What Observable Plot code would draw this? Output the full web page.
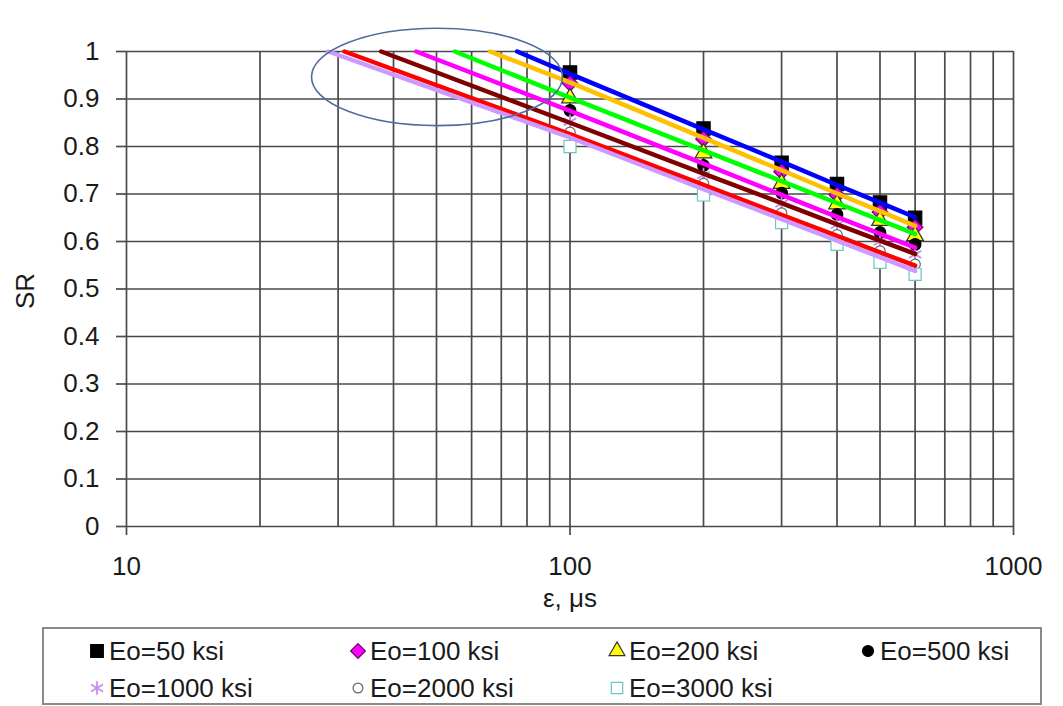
<!DOCTYPE html>
<html>
<head>
<meta charset="utf-8">
<script src="https://cdn.jsdelivr.net/npm/d3@7"></script>
<script src="https://cdn.jsdelivr.net/npm/@observablehq/plot@0.6"></script>
<style>
  body { margin: 0; background: #fff; font-family: "Liberation Sans", Arial, sans-serif; }
  #chart { position: absolute; left: 0; top: 0; }
  #legend { position: absolute; left: 42px; top: 627px; width: 996px; height: 74px; border: 2px solid #8a8a8a; background: #fff; }
  .item { position: absolute; display: flex; align-items: center; height: 30px; font-size: 26px; color: #1a1a1a; white-space: nowrap; }
  .item svg { margin-right: 2px; }
</style>
</head>
<body>
<div id="chart"></div>
<div id="legend"></div>
<script>
// ---- data ----
const xPoints = [100, 200, 300, 400, 500, 600];
const sr50   = [0.956, 0.838, 0.766, 0.721, 0.682, 0.650];
const sr100  = [0.933, 0.816, 0.747, 0.698, 0.662, 0.630];
const sr200  = [0.902, 0.786, 0.722, 0.679, 0.644, 0.612];
const sr500  = [0.876, 0.760, 0.702, 0.657, 0.619, 0.594];
const sr1000 = [0.852, 0.740, 0.680, 0.635, 0.600, 0.573];
const sr2000 = [0.830, 0.722, 0.660, 0.614, 0.580, 0.552];
const sr3000 = [0.800, 0.698, 0.640, 0.594, 0.556, 0.531];

// fitted curves (capped at SR = 1 on the left)
const trendStart = [76, 66, 55, 45, 37.5, 31, 28.5];
const trendBlue     = [1, 0.953, 0.836, 0.768, 0.719, 0.682, 0.651];
const trendOrange   = [1, 0.935, 0.818, 0.750, 0.701, 0.664, 0.633];
const trendGreen    = [1, 0.903, 0.792, 0.727, 0.681, 0.645, 0.616];
const trendMagenta  = [1, 0.875, 0.764, 0.698, 0.652, 0.616, 0.587];
const trendBrown    = [1, 0.850, 0.743, 0.681, 0.636, 0.602, 0.574];
const trendRed      = [1, 0.826, 0.719, 0.656, 0.612, 0.577, 0.549];
const trendLavender = [1, 0.819, 0.710, 0.647, 0.602, 0.567, 0.538];

const seriesLabels = ["Eo=50 ksi", "Eo=100 ksi", "Eo=200 ksi", "Eo=500 ksi", "Eo=1000 ksi", "Eo=2000 ksi", "Eo=3000 ksi"];

const xGrid = [10, 20, 30, 40, 50, 60, 70, 80, 90, 100, 200, 300, 400, 500, 600, 700, 800, 900, 1000];
const xTicks = [10, 100, 1000];
const xTickLabels = ["10", "100", "1000"];
const yTicks = [0, 0.1, 0.2, 0.3, 0.4, 0.5, 0.6, 0.7, 0.8, 0.9, 1];
const yTickLabels = ["0", "0.1", "0.2", "0.3", "0.4", "0.5", "0.6", "0.7", "0.8", "0.9", "1"];

// annotation ellipse (data-space bounds)
const ellipseX = [26.2, 96.4];
const ellipseY = [0.843, 1.048];

// ---- build ----
const rows = (xs, ys) => xs.map((x, i) => ({x, y: ys[i]}));
const trendRows = (k, ys) => rows([trendStart[k], ...xPoints], ys);

const markerStyles = [
  {data: sr50,   symbol: "square",   r: 7.5, fill: "#000", stroke: "#000"},
  {data: sr100,  symbol: "diamond2", r: 7.0, fill: "#ff00ff", stroke: "#660066"},
  {data: sr200,  symbol: "triangle", r: 6.2, fill: "#ffff00", stroke: "#333"},
  {data: sr500,  symbol: "circle",   r: 5.8, fill: "#000", stroke: "#000"},
  {data: sr1000, symbol: "asterisk", r: 6.8, fill: "none", stroke: "#c58ee8"},
  {data: sr2000, symbol: "circle",   r: 5.2, fill: "#fff", stroke: "#666"},
  {data: sr3000, symbol: "square",   r: 6.8, fill: "#fff", stroke: "#6cc4c4"}
];

const trends = [
  {data: trendBlue, color: "#0000ff"},
  {data: trendOrange, color: "#ffc000"},
  {data: trendGreen, color: "#00ff00"},
  {data: trendMagenta, color: "#ff00ff"},
  {data: trendBrown, color: "#800000"},
  {data: trendRed, color: "#ff0000"},
  {data: trendLavender, color: "#cc99ff"}
];

const gridColor = "#4a4a4a";

const plot = Plot.plot({
  width: 1063,
  height: 620,
  marginLeft: 126,
  marginRight: 50,
  marginTop: 51,
  marginBottom: 94,
  x: {type: "log", domain: [10, 1000]},
  y: {domain: [0, 1]},
  style: {fontFamily: "'Liberation Sans', Arial, sans-serif", fontSize: "26px", color: "#1a1a1a", background: "#fff"},
  marks: [
    Plot.ruleX(xGrid, {x: d => d, y1: 0, y2: 1, stroke: gridColor, strokeWidth: 1.7}),
    Plot.ruleY(yTicks, {y: d => d, x1: 10, x2: 1000, stroke: gridColor, strokeWidth: 1.7}),
    Plot.axisX(xTicks, {tickSize: 9, tickPadding: 21, stroke: gridColor, strokeWidth: 1.7, label: null,
      tickFormat: d => xTickLabels[xTicks.indexOf(d)]}),
    Plot.axisY(yTicks, {tickSize: 10, tickPadding: 17, stroke: gridColor, strokeWidth: 1.7, label: null,
      tickFormat: d => yTickLabels[yTicks.indexOf(d)]}),
    ...markerStyles.map(m => Plot.dot(rows(xPoints, m.data), {
      x: "x", y: "y", symbol: m.symbol, r: m.r, fill: m.fill, stroke: m.stroke, strokeWidth: m.symbol === "asterisk" ? 1.8 : 1.2
    })),
    ...trends.map((t, k) => Plot.line(trendRows(k, t.data), {
      x: "x", y: "y", stroke: t.color, strokeWidth: 4.5, strokeLinecap: "round", strokeLinejoin: "round"
    })),
    Plot.text(["SR"], {text: d => d, frameAnchor: "left", dx: -101, dy: 20, rotate: -90}),
    Plot.text(["ε, μs"], {text: d => d, frameAnchor: "bottom", dy: 80})
  ]
});

// ellipse annotation through the plot's scales
const sx = plot.scale("x"), sy = plot.scale("y");
const ex1 = sx.apply(ellipseX[0]), ex2 = sx.apply(ellipseX[1]);
const ey1 = sy.apply(ellipseY[0]), ey2 = sy.apply(ellipseY[1]);
d3.select(plot).append("ellipse")
  .attr("cx", (ex1 + ex2) / 2).attr("cy", (ey1 + ey2) / 2)
  .attr("rx", Math.abs(ex2 - ex1) / 2).attr("ry", Math.abs(ey2 - ey1) / 2)
  .attr("fill", "none").attr("stroke", "#4f6d9c").attr("stroke-width", 1.6);

document.getElementById("chart").appendChild(plot);

// ---- legend ----
const legendPos = [
  [43, 7], [304, 7], [563, 7], [814, 7],
  [43, 44], [304, 44], [563, 44]
];
const symbolMap = {
  square: d3.symbolSquare, diamond2: d3.symbolDiamond2, triangle: d3.symbolTriangle,
  circle: d3.symbolCircle, asterisk: d3.symbolAsterisk
};
const legend = d3.select("#legend");
markerStyles.forEach((m, i) => {
  const item = legend.append("div").attr("class", "item")
    .style("left", legendPos[i][0] + "px").style("top", legendPos[i][1] + "px");
  const svg = item.append("svg").attr("width", 20).attr("height", 30);
  const size = Math.PI * m.r * m.r * 0.9;
  svg.append("path")
    .attr("transform", "translate(10,15)")
    .attr("d", d3.symbol(symbolMap[m.symbol], size)())
    .attr("fill", m.fill).attr("stroke", m.stroke)
    .attr("stroke-width", m.symbol === "asterisk" ? 1.8 : 1.2);
  item.append("span").text(seriesLabels[i]);
});
</script>
</body>
</html>
